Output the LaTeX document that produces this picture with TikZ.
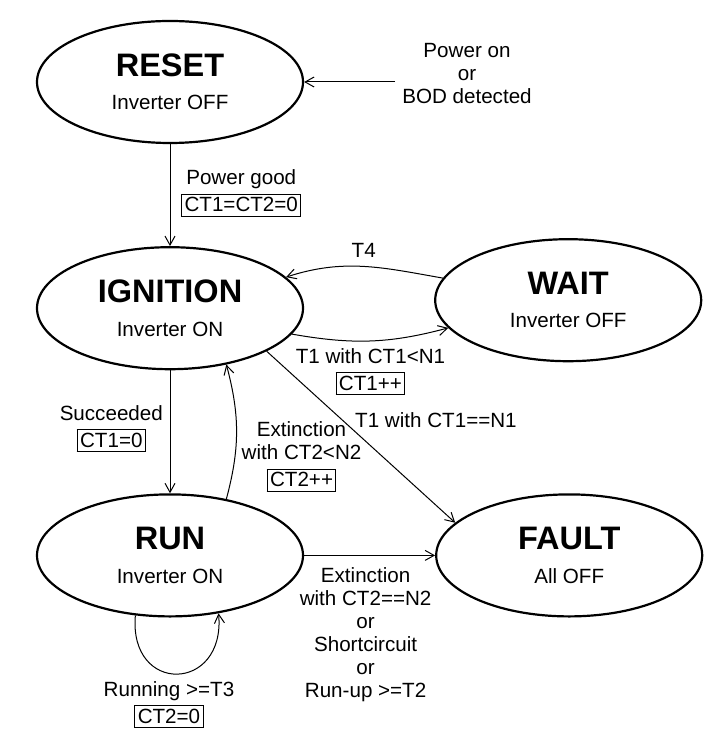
\documentclass[tikz,border=0pt]{standalone}
\usepackage{fontspec}
\setmainfont{Liberation Sans}
\usetikzlibrary{positioning,shapes.geometric,arrows.meta}
\def\dx{65pt}
\def\dy{51pt}
\tikzstyle{state}=[draw,ellipse,line width=1.1pt,minimum width=133pt,minimum height=61pt,
  inner sep=0pt,align=center,font=\fontsize{10.3}{16.7}\selectfont]
\tikzstyle{lbl}=[align=center,font=\fontsize{10.3}{11.5}\selectfont]
\newcommand{\act}[1]{{\setlength{\fboxsep}{1.2pt}\setlength{\fboxrule}{0.5pt}%
  \fbox{\rule[-0.9pt]{0pt}{8.3pt}#1}}}
\newcommand{\newState}[4]{\node[state,#4](#1){{\fontsize{16.25}{16.7}\selectfont\bfseries #2}\\#3};}
\newcommand{\newTransition}[5]{\path[->] (#1) edge [#4] node[lbl,#5] {#3} (#2);}

\begin{document}
\begin{tikzpicture}[node distance=\dy and \dx,
    >={Straight Barb[length=4.5pt,width=5pt]},line width=0.5pt,auto
    ]
    \useasboundingbox (0,0) rectangle (359pt,-366pt);
    \newState{RESET}{RESET}{Inverter OFF}{at={(85pt,-41pt)}}
    \newState{IGNITION}{IGNITION}{Inverter ON}{below=of RESET}
    \newState{WAIT}{WAIT}{Inverter OFF}{right=of IGNITION,yshift=4pt}
    \newState{RUN}{RUN}{Inverter ON}{below=61.5pt of IGNITION}
    \newState{FAULT}{FAULT}{All OFF}{right=65.5pt of RUN}
    % power on entry
    \node[lbl] (pwron) at (233.5pt,-36.75pt) {Power on\\or\\BOD detected};
    \draw[->] (pwron.west |- RESET.east) -- (RESET.east);
    \newTransition{RESET}{IGNITION}{Power good\\[2pt]\act{CT1=CT2=0}}{}{pos=0.485,anchor=west,xshift=2pt}
    \newTransition{WAIT.170}{IGNITION.15}{T4}{out=170,in=18}{above,yshift=1pt}
    \newTransition{IGNITION.-12}{WAIT.193}{T1 with CT1<N1\\[2pt]\act{CT1++}}{out=-10,in=195}{below}
    \newTransition{IGNITION.-24}{FAULT.164}{T1 with CT1==N1}{}{pos=0.4,anchor=west,xshift=3pt}
    \newTransition{IGNITION}{RUN}{Succeeded\\[2pt]\act{CT1=0}}{}{left,yshift=1.5pt}
    \newTransition{RUN.45}{IGNITION.-45}{Extinction\\with CT2<N2\\[2pt]\act{CT2++}}{out=75,in=-75}{pos=0.28,anchor=west,yshift=1.5pt}
    \newTransition{RUN.240}{RUN.-50}{Running >=T3\\[2pt]\act{CT2=0}}{out=-95,in=-85,looseness=2.45}{below,xshift=-4pt}
    \newTransition{RUN}{FAULT}{Extinction\\with CT2==N2\\or\\Shortcircuit\\or\\Run-up >=T2}{}{below,xshift=-2pt,yshift=-2.5pt}
\end{tikzpicture}
\end{document}
